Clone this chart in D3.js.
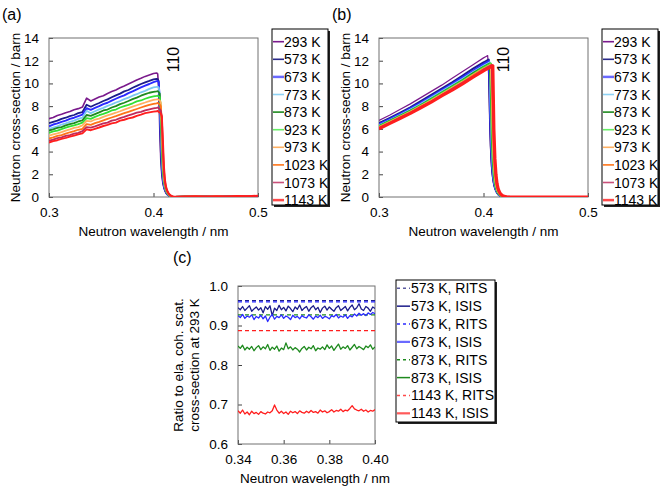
<!DOCTYPE html>
<html><head><meta charset="utf-8">
<script src="https://cdn.jsdelivr.net/npm/d3@7"></script>
<style>body{margin:0;background:#fff} svg{display:block;font-family:Arial,"Liberation Sans",sans-serif}</style>
</head><body><svg id="c" width="662" height="491"></svg>
<script>
// ---------- DATA ----------
const tempLabels = ["293 K","573 K","673 K","773 K","873 K","923 K","973 K","1023 K","1073 K","1143 K"];
const tempColors = ["#7a1a8c","#1c1c8a","#2a2aff","#7cc8f2","#1e8a1e","#33e033","#ffb062","#ff7418","#c02a5a","#ff1e1e"];
const legendColors = ["#7a1a8c","#2a2a8a","#6a6aff","#8fd3f5","#1e8a1e","#66ee66","#ffb062","#ff7418","#c8507a","#ff4a4a"];

// panel (a) measured (wavelength grid)
const xA = [0.300,0.304,0.308,0.312,0.316,0.320,0.324,0.328,0.332,0.336,0.340,0.344,0.348,0.352,0.356,0.360,0.364,0.368,0.372,0.376,0.380,0.384,0.388,0.392,0.396,0.400,
 0.403,0.404,0.405,0.406,0.407,0.408,0.409,0.410,0.411,0.412,0.413,0.414,0.415,0.416,0.417,0.418,0.419,0.420,
 0.430,0.440,0.450,0.460,0.470,0.480,0.490,0.500];
const a293 = [6.9,7.0,7.18,7.28,7.42,7.52,7.68,7.78,7.92,8.7,8.45,8.62,8.8,8.92,9.12,9.28,9.42,9.62,9.78,9.95,10.12,10.3,10.45,10.62,10.75,10.88,
 10.92,10.85,9.5,6.0,3.2,1.9,1.2,0.8,0.52,0.34,0.22,0.14,0.08,0.04,0.02,0.01,0,0, 0.03,0.01,0.05,0.02,0.04,0.02,0.06,0.03];
const a573 = [6.5,6.62,6.72,6.88,6.98,7.12,7.22,7.38,7.48,8.12,7.95,8.12,8.28,8.45,8.6,8.78,8.95,9.1,9.3,9.42,9.62,9.78,9.95,10.1,10.22,10.35,
 10.4,10.38,10.2,7.5,4.0,2.3,1.4,0.9,0.6,0.4,0.26,0.16,0.1,0.05,0.03,0.01,0,0, 0.02,0.04,0.01,0.03,0.02,0.05,0.02,0.04];
const a673 = [6.22,6.38,6.48,6.62,6.72,6.88,6.98,7.12,7.25,7.82,7.68,7.85,8.0,8.18,8.3,8.48,8.65,8.82,8.95,9.15,9.3,9.48,9.65,9.8,9.95,10.12,
 10.2,10.22,10.1,8.5,5.0,2.8,1.6,1.0,0.66,0.44,0.29,0.18,0.11,0.06,0.03,0.02,0.01,0, 0.03,0.02,0.04,0.01,0.03,0.02,0.04,0.05];
const a773 = [6.0,6.12,6.22,6.38,6.48,6.62,6.72,6.88,6.98,7.6,7.38,7.55,7.72,7.85,8.02,8.15,8.32,8.45,8.62,8.75,8.92,9.05,9.22,9.35,9.52,9.65,
 9.7,9.72,9.65,9.0,6.0,3.4,1.9,1.15,0.75,0.5,0.33,0.21,0.13,0.07,0.04,0.02,0.01,0, 0.02,0.03,0.01,0.04,0.02,0.03,0.05,0.02];
const a873 = [5.85,5.95,6.08,6.15,6.3,6.42,6.5,6.65,6.75,7.22,7.15,7.3,7.45,7.62,7.7,7.88,8.0,8.18,8.3,8.45,8.62,8.75,8.92,9.05,9.18,9.25,
 9.3,9.32,9.25,9.1,7.0,4.2,2.3,1.35,0.85,0.56,0.37,0.24,0.15,0.09,0.05,0.03,0.01,0, 0.04,0.02,0.03,0.01,0.05,0.02,0.03,0.04];
const a923 = [5.65,5.78,5.85,5.98,6.1,6.22,6.3,6.42,6.55,6.95,6.88,7.05,7.2,7.32,7.45,7.62,7.7,7.88,8.0,8.12,8.25,8.42,8.5,8.65,8.78,8.85,
 8.9,8.92,8.85,8.8,8.0,5.0,2.7,1.5,0.95,0.62,0.41,0.27,0.17,0.1,0.06,0.03,0.02,0.01, 0.02,0.04,0.02,0.03,0.01,0.04,0.02,0.03];
const a973 = [5.4,5.52,5.6,5.72,5.85,5.95,6.08,6.15,6.3,6.7,6.65,6.82,6.9,7.05,7.18,7.3,7.42,7.55,7.7,7.82,7.95,8.08,8.2,8.32,8.45,8.55,
 8.6,8.62,8.55,8.5,8.3,5.8,3.1,1.7,1.05,0.68,0.45,0.3,0.19,0.12,0.07,0.04,0.02,0.01, 0.03,0.05,0.02,0.06,0.03,0.04,0.08,0.05];
const a1023 = [5.15,5.25,5.38,5.45,5.58,5.7,5.8,5.92,6.0,6.42,6.35,6.5,6.62,6.75,6.88,7.0,7.12,7.25,7.38,7.5,7.62,7.75,7.88,8.0,8.12,8.2,
 8.25,8.28,8.2,8.15,8.0,6.5,3.6,1.95,1.15,0.75,0.5,0.33,0.21,0.13,0.08,0.05,0.02,0.01, 0.02,0.03,0.05,0.02,0.04,0.06,0.03,0.05];
const a1073 = [4.95,5.05,5.18,5.25,5.38,5.45,5.58,5.65,5.8,6.15,6.1,6.22,6.35,6.48,6.55,6.72,6.8,6.95,7.05,7.18,7.3,7.42,7.5,7.62,7.72,7.8,
 7.85,7.88,7.8,7.75,7.6,7.0,4.3,2.3,1.3,0.82,0.54,0.36,0.23,0.15,0.09,0.05,0.03,0.01, 0.03,0.02,0.05,0.03,0.06,0.04,0.07,0.05];
const a1143 = [4.8,4.92,5.0,5.12,5.2,5.32,5.4,5.52,5.6,5.95,5.88,6.0,6.12,6.25,6.35,6.48,6.55,6.72,6.8,6.92,7.0,7.15,7.25,7.38,7.45,7.52,
 7.55,7.58,7.5,7.45,7.35,7.1,5.0,2.7,1.5,0.92,0.6,0.4,0.26,0.17,0.1,0.06,0.03,0.02, 0.04,0.06,0.03,0.08,0.05,0.1,0.06,0.12];
const seriesA = [a293,a573,a673,a773,a873,a923,a973,a1023,a1073,a1143];

// panel (b) calculated
const xB = [0.300,0.310,0.320,0.330,0.340,0.350,0.360,0.370,0.380,0.390,0.400,
 0.402,0.404,0.405,0.406,0.407,0.408,0.409,0.410,0.411,0.412,0.413,0.414,0.415,0.416,0.417,0.418,
 0.420,0.422,0.425,0.430,0.450,0.500];
const b293 = [6.75,7.2,7.7,8.2,8.75,9.3,9.85,10.45,11.05,11.65,12.25, 12.35,12.45,10.5,6.0,3.5,2.2,1.5,1.0,0.7,0.48,0.32,0.21,0.13,0.08,0.04,0.02, 0,0,0,0,0,0];
const b573 = [6.5,6.95,7.4,7.9,8.45,9.0,9.55,10.1,10.7,11.3,11.85, 11.95,12.05,12.1,8.0,4.5,2.7,1.75,1.15,0.8,0.55,0.37,0.25,0.16,0.1,0.06,0.03, 0.01,0,0,0,0,0];
const b673 = [6.4,6.85,7.3,7.8,8.3,8.85,9.4,9.95,10.55,11.1,11.7, 11.8,11.9,11.95,10.0,5.5,3.2,2.0,1.3,0.88,0.6,0.41,0.28,0.18,0.11,0.07,0.04, 0.01,0,0,0,0,0];
const b773 = [6.3,6.75,7.2,7.7,8.2,8.75,9.3,9.85,10.4,11.0,11.55, 11.65,11.75,11.8,11.85,7.0,4.0,2.4,1.5,1.0,0.68,0.46,0.31,0.2,0.13,0.08,0.05, 0.02,0,0,0,0,0];
const b873 = [6.25,6.7,7.15,7.6,8.1,8.65,9.2,9.75,10.3,10.9,11.45, 11.55,11.65,11.7,11.75,9.5,5.2,3.0,1.8,1.15,0.76,0.51,0.34,0.23,0.15,0.09,0.06, 0.02,0.01,0,0,0,0];
const b923 = [6.2,6.65,7.1,7.55,8.05,8.6,9.15,9.7,10.25,10.8,11.4, 11.5,11.6,11.65,11.7,11.75,7.0,3.9,2.3,1.4,0.9,0.6,0.4,0.27,0.18,0.11,0.07, 0.03,0.01,0,0,0,0];
const b973 = [6.15,6.6,7.05,7.5,8.0,8.5,9.05,9.6,10.15,10.75,11.3, 11.4,11.5,11.55,11.6,11.65,9.0,4.9,2.8,1.7,1.05,0.7,0.46,0.31,0.2,0.13,0.08, 0.035,0.015,0,0,0,0];
const b1023 = [6.1,6.55,7.0,7.45,7.95,8.45,9.0,9.55,10.1,10.7,11.25, 11.35,11.45,11.5,11.55,11.6,11.65,6.5,3.6,2.1,1.3,0.82,0.54,0.36,0.24,0.15,0.1, 0.04,0.02,0.005,0,0,0];
const b1073 = [6.05,6.5,6.95,7.4,7.9,8.4,8.95,9.5,10.05,10.6,11.2, 11.3,11.4,11.45,11.5,11.55,11.6,8.5,4.6,2.6,1.55,0.95,0.62,0.41,0.27,0.18,0.11, 0.05,0.02,0.006,0,0,0];
const b1143 = [6.0,6.45,6.9,7.35,7.85,8.35,8.9,9.4,9.95,10.55,11.1, 11.2,11.3,11.35,11.4,11.45,11.5,11.55,6.0,3.4,2.0,1.2,0.76,0.5,0.33,0.22,0.14, 0.06,0.03,0.01,0,0,0];
const seriesB = [b293,b573,b673,b773,b873,b923,b973,b1023,b1073,b1143];

// panel (c) ratios
const xC = [0.340,0.341,0.342,0.343,0.344,0.345,0.346,0.347,0.348,0.349,
 0.350,0.351,0.352,0.353,0.354,0.355,0.356,0.357,0.358,0.359,
 0.360,0.361,0.362,0.363,0.364,0.365,0.366,0.367,0.368,0.369,
 0.370,0.371,0.372,0.373,0.374,0.375,0.376,0.377,0.378,0.379,
 0.380,0.381,0.382,0.383,0.384,0.385,0.386,0.387,0.388,0.389,
 0.390,0.391,0.392,0.393,0.394,0.395,0.396,0.397,0.398,0.399,0.400];
const xRits = [0.340,0.400];
const rits573 = [0.963,0.963];
const rits673 = [0.960,0.960];
const rits873 = [0.927,0.927];
const rits1143 = [0.887,0.887];
const isis573 = [0.945,0.940,0.948,0.938,0.944,0.950,0.936,0.942,0.947,0.939,
 0.945,0.932,0.948,0.941,0.950,0.925,0.944,0.938,0.951,0.940,
 0.946,0.937,0.949,0.943,0.935,0.947,0.941,0.952,0.938,0.944,
 0.948,0.936,0.945,0.950,0.940,0.946,0.933,0.944,0.949,0.939,
 0.947,0.941,0.936,0.945,0.950,0.938,0.943,0.948,0.937,0.946,
 0.952,0.940,0.945,0.955,0.942,0.938,0.948,0.944,0.936,0.947,0.943];
const isis673 = [0.925,0.920,0.928,0.918,0.924,0.921,0.927,0.915,0.923,0.919,
 0.926,0.917,0.924,0.910,0.921,0.928,0.916,0.923,0.920,0.927,
 0.918,0.924,0.921,0.915,0.926,0.920,0.923,0.917,0.925,0.921,
 0.919,0.927,0.922,0.916,0.924,0.920,0.926,0.918,0.923,0.921,
 0.917,0.925,0.922,0.928,0.919,0.924,0.921,0.927,0.918,0.925,
 0.922,0.929,0.924,0.931,0.926,0.930,0.925,0.932,0.928,0.933,0.930];
const isis873 = [0.848,0.842,0.850,0.838,0.845,0.840,0.847,0.836,0.844,0.849,
 0.839,0.846,0.841,0.852,0.837,0.845,0.840,0.848,0.835,0.843,
 0.839,0.856,0.841,0.846,0.838,0.844,0.840,0.833,0.842,0.847,
 0.838,0.845,0.841,0.849,0.836,0.843,0.840,0.846,0.839,0.851,
 0.842,0.848,0.837,0.845,0.853,0.840,0.846,0.842,0.849,0.838,
 0.845,0.852,0.841,0.847,0.843,0.839,0.848,0.844,0.851,0.840,0.846];
const isis1143 = [0.684,0.678,0.686,0.676,0.681,0.674,0.683,0.677,0.680,0.675,
 0.682,0.678,0.676,0.681,0.679,0.684,0.699,0.686,0.678,0.683,
 0.677,0.681,0.675,0.683,0.679,0.682,0.677,0.684,0.680,0.678,
 0.683,0.679,0.685,0.680,0.682,0.678,0.686,0.681,0.684,0.679,
 0.682,0.687,0.681,0.685,0.683,0.688,0.682,0.686,0.684,0.690,
 0.697,0.689,0.686,0.684,0.688,0.683,0.686,0.681,0.685,0.683,0.687];
const legendC = ["573 K, RITS","573 K, ISIS","673 K, RITS","673 K, ISIS","873 K, RITS","873 K, ISIS","1143 K, RITS","1143 K, ISIS"];
const colorsC = ["#1c1c8a","#1c1c8a","#2a2aff","#2a2aff","#1e8a1e","#1e8a1e","#ff1e1e","#ff1e1e"];
const legendColorsC = ["#5a5aa0","#1c1c8a","#2a2aff","#6a6aff","#1e8a1e","#1e8a1e","#ff4a4a","#ff5a5a"];

const ticksAY = [0,2,4,6,8,10,12,14];
const ticksAX = [0.3,0.4,0.5];
const ticksCY = [0.6,0.7,0.8,0.9,1.0];
const ticksCX = [0.34,0.36,0.38,0.40];

// ---------- DRAW ----------
const svg = d3.select("#c");
const FS = 13.5;

function panel(id, box, xd, yd, xt, yt, xfmt, yfmt) {
  const x = d3.scaleLinear().domain(xd).range([box.l, box.r]);
  const y = d3.scaleLinear().domain(yd).range([box.b, box.t]);
  svg.append("clipPath").attr("id", id).append("rect")
    .attr("x", box.l).attr("y", box.t).attr("width", box.r - box.l).attr("height", box.b - box.t);
  const gx = svg.append("g").attr("transform", `translate(0,${box.b})`)
    .call(d3.axisBottom(x).tickValues(xt).tickFormat(d3.format(xfmt)).tickSize(-4).tickPadding(10));
  const gy = svg.append("g").attr("transform", `translate(${box.l},0)`)
    .call(d3.axisLeft(y).tickValues(yt).tickFormat(d3.format(yfmt)).tickSize(-4).tickPadding(10));
  [gx, gy].forEach(g => {
    g.select(".domain").remove();
    g.selectAll("line").attr("stroke", "#444");
    g.selectAll("text").attr("font-size", FS).attr("fill", "#000").attr("font-family", "Arial, 'Liberation Sans', sans-serif");
  });
  svg.append("rect").attr("x", box.l).attr("y", box.t).attr("width", box.r - box.l).attr("height", box.b - box.t)
    .attr("fill", "none").attr("stroke", "#707070").attr("stroke-width", 1);
  const g = svg.append("g").attr("clip-path", `url(#${id})`);
  return {x, y, g};
}

function legendBox(x0, y0, w, h) {
  svg.append("rect").attr("x", x0 + 2).attr("y", y0 + 2).attr("width", w).attr("height", h).attr("fill", "#222");
  svg.append("rect").attr("x", x0).attr("y", y0).attr("width", w).attr("height", h)
    .attr("fill", "#fff").attr("stroke", "#000").attr("stroke-width", 1);
}

function txt(x, y, s, size, anchor, rot) {
  const t = svg.append("text").attr("x", x).attr("y", y).text(s)
    .attr("font-size", size).attr("text-anchor", anchor || "start").attr("fill", "#000");
  if (rot) t.attr("transform", `rotate(${rot},${x},${y})`);
  return t;
}

const widthsA = [1.6,1.8,1.9,1.8,1.8,1.8,1.8,1.8,1.8,1.9];
const widthsB = [1.2,2,2.2,2,2,2.2,2,2,2.2,3];

function tempPanel(id, ox, xs, series, widths, label) {
  const box = {l: 49 + ox, r: 258 + ox, t: 38, b: 197};
  const p = panel(id, box, [0.3, 0.5], [0, 14], ticksAX, ticksAY, ".1f", "d");
  series.forEach((s, i) => {
    const line = d3.line().x((d, j) => p.x(xs[j])).y(d => p.y(d));
    p.g.append("path").datum(s).attr("d", line).attr("fill", "none")
      .attr("stroke", tempColors[i]).attr("stroke-width", widths[i]).attr("stroke-linejoin", "round");
  });
  txt(153.5 + ox, 236, "Neutron wavelength / nm", FS, "middle");
  txt(20 + ox, 117.5, "Neutron cross-section / barn", FS, "middle", -90);
  txt(2 + ox, 20, label, 16, "start");
  txt(179 + ox, 59.5, "110", 16, "middle", -90);
  legendBox(272 + ox, 29, 56, 176);
  tempLabels.forEach((lab, i) => {
    const yy = 41.7 + i * 17.6;
    svg.append("line").attr("x1", 273 + ox).attr("x2", 284 + ox).attr("y1", yy).attr("y2", yy)
      .attr("stroke", legendColors[i]).attr("stroke-width", i === 2 || i === 9 ? 2.5 : 1.6);
    txt(284 + ox, yy + 5, lab, 14, "start");
  });
}

tempPanel("ca", 0, xA, seriesA, widthsA, "(a)");
tempPanel("cb", 330, xB, seriesB, widthsB, "(b)");

// panel (c)
{
  const box = {l: 238, r: 375, t: 286, b: 444};
  const p = panel("cc", box, [0.34, 0.40], [0.6, 1.0], ticksCX, ticksCY, ".2f", ".1f");
  const lineR = d3.line().x((d, j) => p.x(xRits[j])).y(d => p.y(d));
  const lineI = d3.line().x((d, j) => p.x(xC[j])).y(d => p.y(d));
  const ritsData = [rits573, rits673, rits873, rits1143];
  const isisData = [isis573, isis673, isis873, isis1143];
  ritsData.forEach((s, i) => {
    p.g.append("path").datum(s).attr("d", lineR).attr("fill", "none")
      .attr("stroke", colorsC[i * 2]).attr("stroke-width", 1.2).attr("stroke-dasharray", "4,3");
  });
  isisData.forEach((s, i) => {
    p.g.append("path").datum(s).attr("d", lineI).attr("fill", "none")
      .attr("stroke", colorsC[i * 2 + 1]).attr("stroke-width", 1.3).attr("stroke-linejoin", "round");
  });
  txt(315, 483, "Neutron wavelength / nm", FS, "middle");
  txt(183, 365, "Ratio to ela. coh. scat.", FS, "middle", -90);
  txt(199, 365, "cross-section at 293 K", FS, "middle", -90);
  txt(173, 263, "(c)", 16, "start");
  legendBox(396, 280, 99, 142);
  legendC.forEach((lab, i) => {
    const yy = 288.3 + i * 17.86;
    const l = svg.append("line").attr("x1", 397).attr("x2", 410).attr("y1", yy).attr("y2", yy)
      .attr("stroke", legendColorsC[i]).attr("stroke-width", i === 3 || i === 7 ? 2.2 : 1.5);
    if (i % 2 === 0) l.attr("stroke-dasharray", "3,3");
    txt(411, yy + 5, lab, 14, "start");
  });
}
</script></body></html>
